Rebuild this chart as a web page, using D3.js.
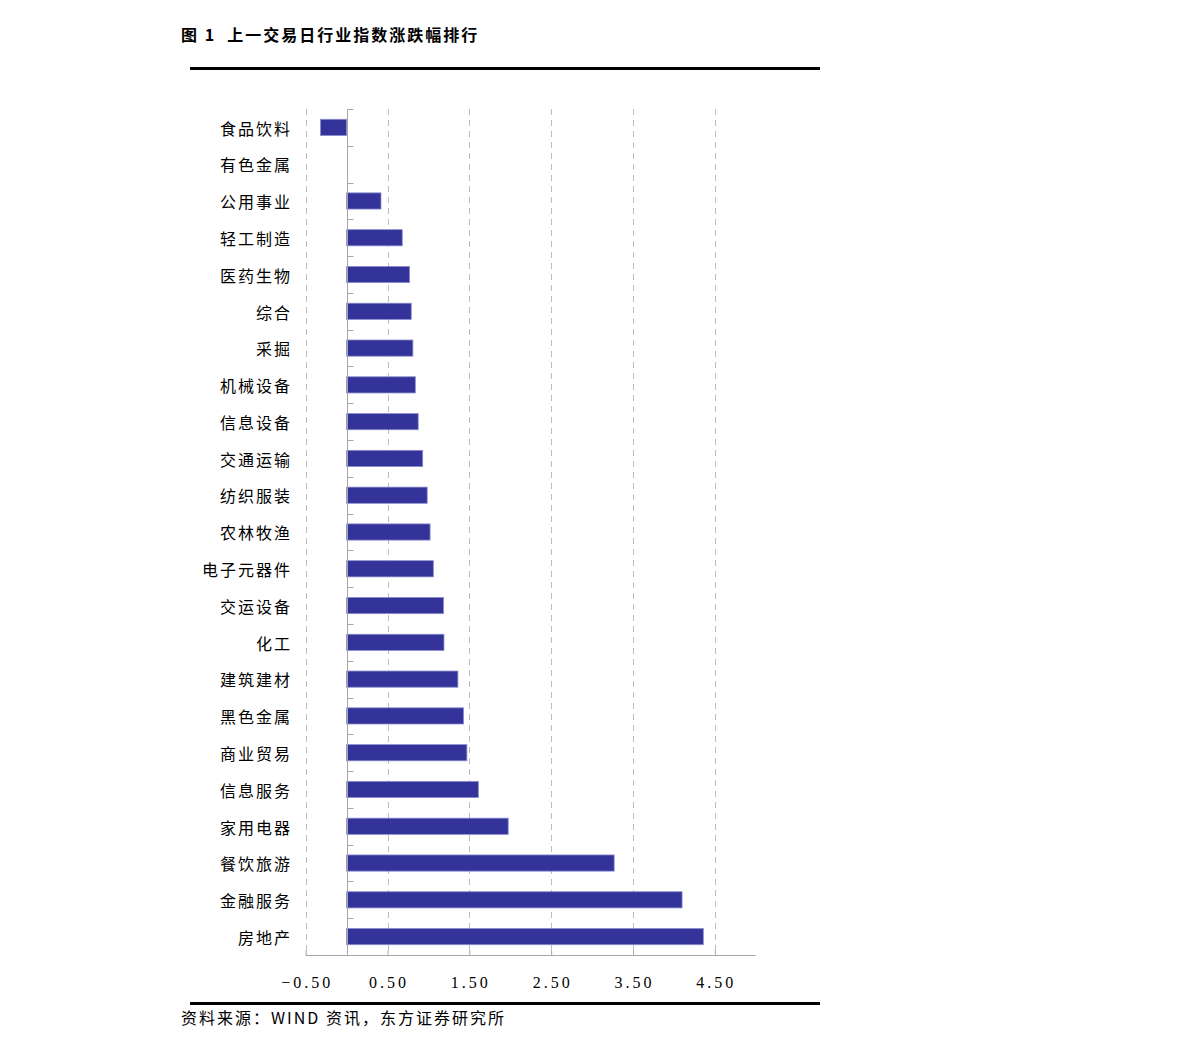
<!DOCTYPE html>
<html>
<head>
<meta charset="utf-8">
<script src="https://cdn.jsdelivr.net/npm/d3@7"></script>
<style>
    html, body { margin: 0; padding: 0; background: #fff; }
    svg { display: block; }
</style>
</head>
<body>
<div id="chart"></div>
<script>
// Industry names, top to bottom
var categories = ["食品饮料", "有色金属", "公用事业", "轻工制造", "医药生物", "综合", "采掘",
    "机械设备", "信息设备", "交通运输", "纺织服装", "农林牧渔", "电子元器件", "交运设备",
    "化工", "建筑建材", "黑色金属", "商业贸易", "信息服务", "家用电器", "餐饮旅游",
    "金融服务", "房地产"];

// Change (%) on the previous trading day
var values = [-0.32, 0.00, 0.42, 0.68, 0.77, 0.79, 0.81, 0.84, 0.875, 0.93, 0.985, 1.02,
    1.06, 1.185, 1.19, 1.36, 1.43, 1.47, 1.61, 1.975, 3.27, 4.10, 4.36];

var xTicks = [-0.5, 0.5, 1.5, 2.5, 3.5, 4.5];
var xDomain = [-0.5, 5.0];

var titleText = "图 1  上一交易日行业指数涨跌幅排行";
var sourceText = "资料来源：WIND 资讯，东方证券研究所";

(function () {
    "use strict";

    var W = 1191, H = 1048;
    var plot = { left: 305.7, right: 755.7, top: 109, bottom: 955 };

    var svg = d3.select("#chart").append("svg")
        .attr("width", W)
        .attr("height", H);

    var data = categories.map(function (c, i) { return { name: c, value: values[i] }; });

    var x = d3.scaleLinear().domain(xDomain).range([plot.left, plot.right]);
    var y = d3.scaleBand().domain(categories)
        .range([plot.top, plot.bottom])
        .paddingInner(0.56)
        .paddingOuter(0.28);

    // Title + rules
    svg.append("text")
        .attr("x", 181).attr("y", 41)
        .attr("font-family", "'Noto Sans CJK SC', sans-serif")
        .attr("font-weight", "bold")
        .attr("font-size", 16)
        .attr("letter-spacing", 2)
        .attr("fill", "#000")
        .attr("xml:space", "preserve")
        .text(titleText);

    svg.append("rect").attr("x", 190).attr("y", 67).attr("width", 630).attr("height", 3).attr("fill", "#000");
    svg.append("rect").attr("x", 190).attr("y", 1002).attr("width", 630).attr("height", 3).attr("fill", "#000");

    // Dashed vertical grid
    svg.append("g").selectAll("line")
        .data(xTicks)
        .join("line")
        .attr("x1", function (d) { return Math.round(x(d)) + 0.5; })
        .attr("x2", function (d) { return Math.round(x(d)) + 0.5; })
        .attr("y1", plot.top)
        .attr("y2", plot.bottom)
        .attr("stroke", "#bdbdbd")
        .attr("stroke-width", 1)
        .attr("stroke-dasharray", "6,5");

    // Bars
    svg.append("g").selectAll("rect")
        .data(data.filter(function (d) { return d.value !== 0; }))
        .join("rect")
        .attr("x", function (d) { return x(Math.min(0, d.value)); })
        .attr("y", function (d) { return y(d.name); })
        .attr("width", function (d) { return Math.abs(x(d.value) - x(0)); })
        .attr("height", y.bandwidth())
        .attr("fill", "#333399")
        .attr("stroke", "#8c8cd0")
        .attr("stroke-width", 0.8);

    // Category axis at zero
    var x0 = Math.round(x(0)) + 0.5;
    svg.append("line")
        .attr("x1", x0).attr("x2", x0)
        .attr("y1", plot.top).attr("y2", plot.bottom)
        .attr("stroke", "#a6a6a6");

    var bounds = d3.range(0, categories.length + 1).map(function (i) {
        return plot.top + i * y.step();
    });
    svg.append("g").selectAll("line")
        .data(bounds.slice(0, -1))
        .join("line")
        .attr("x1", x0).attr("x2", x0 + 6)
        .attr("y1", function (d) { return Math.round(d) + 0.5; })
        .attr("y2", function (d) { return Math.round(d) + 0.5; })
        .attr("stroke", "#a6a6a6");

    // Category labels
    svg.append("g").selectAll("text")
        .data(categories)
        .join("text")
        .attr("x", 292)
        .attr("y", function (d) { return y(d) + y.bandwidth() / 2 + 1.5; })
        .attr("dy", "0.36em")
        .attr("text-anchor", "end")
        .attr("font-family", "'Noto Sans CJK SC', sans-serif")
        .attr("font-size", 16)
        .attr("letter-spacing", 2)
        .attr("fill", "#000")
        .text(function (d) { return d; });

    // Value axis
    var xAxis = svg.append("g")
        .attr("transform", "translate(0," + (plot.bottom + 0.5) + ")")
        .call(d3.axisBottom(x).tickValues(xTicks).tickSize(-5).tickPadding(0)
            .tickFormat(function (d) { return d3.format(".2f")(d).replace("-", "−"); }));
    xAxis.select(".domain")
        .attr("d", "M" + plot.left + ",0H" + plot.right)
        .attr("stroke", "#a6a6a6");
    xAxis.selectAll(".tick line").attr("stroke", "#a6a6a6");
    xAxis.selectAll(".tick text")
        .attr("y", 27)
        .attr("dx", 1)
        .attr("dy", "0.32em")
        .attr("font-family", "'Liberation Serif', serif")
        .attr("font-size", 16)
        .attr("letter-spacing", 3)
        .attr("fill", "#000");

    // Source note
    svg.append("text")
        .attr("x", 181).attr("y", 1024)
        .attr("font-family", "'Noto Sans CJK SC', sans-serif")
        .attr("font-size", 16)
        .attr("letter-spacing", 2)
        .attr("fill", "#000")
        .text(sourceText);
})();
</script>
</body>
</html>
